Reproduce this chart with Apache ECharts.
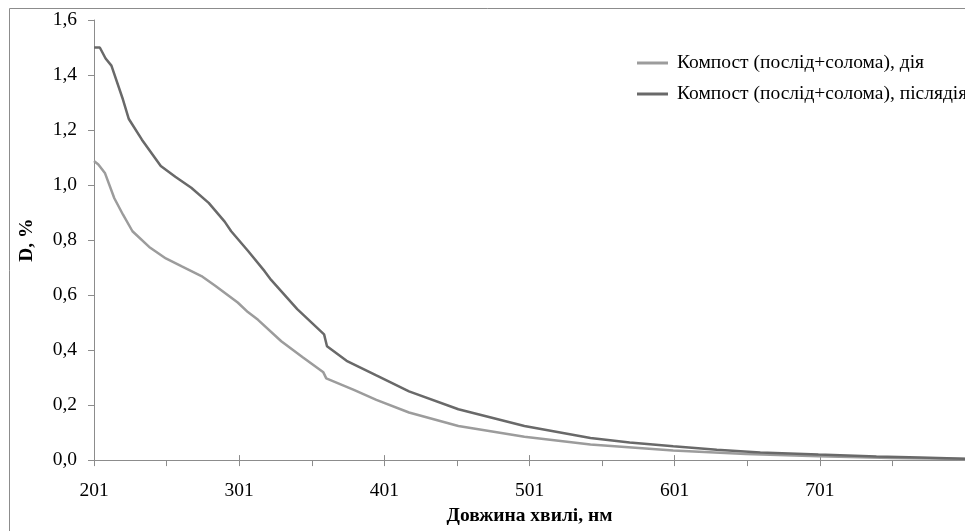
<!DOCTYPE html>
<html>
<head>
<meta charset="utf-8">
<script src="https://cdn.jsdelivr.net/npm/echarts@6/dist/echarts.min.js"></script>
<style>
html,body{margin:0;padding:0;background:#fff;overflow:hidden;}
#c{width:965px;height:531px;}
</style>
</head>
<body>
<div id="c"></div>
<script>
// Reference data
const seriesNames = ['Компост (послід+солома), дія', 'Компост (послід+солома), післядія'];
const lightNm = [201, 204, 208.5, 215, 221, 227.5, 239, 250.5, 261.5, 275, 284.5, 300, 307, 314, 330, 345, 359, 361, 380, 395.5, 418, 452, 497.5, 543, 600, 650, 700, 750, 801];
const lightD  = [1.087, 1.075, 1.044, 0.952, 0.892, 0.832, 0.775, 0.733, 0.704, 0.669, 0.634, 0.573, 0.538, 0.51, 0.432, 0.373, 0.319, 0.297, 0.255, 0.219, 0.173, 0.124, 0.085, 0.057, 0.035, 0.022, 0.014, 0.008, 0.004];
const darkNm = [201, 205, 209, 213, 221, 225, 234, 247, 257, 268, 280, 291, 295.5, 307, 318.5, 323, 341, 359.5, 361.5, 375, 395.5, 418, 452, 497.5, 543, 570, 600, 630, 660, 700, 740, 770, 801];
const darkD  = [1.50, 1.50, 1.46, 1.434, 1.31, 1.24, 1.165, 1.069, 1.03, 0.99, 0.935, 0.867, 0.832, 0.761, 0.687, 0.655, 0.549, 0.457, 0.414, 0.361, 0.308, 0.25, 0.185, 0.124, 0.08, 0.064, 0.05, 0.038, 0.028, 0.02, 0.013, 0.009, 0.005];
const xTicks = {min: 201, max: 801, interval: 100};
const yTicks = {min: 0, max: 1.6, interval: 0.2};
const xTitle = 'Довжина хвилі, нм';
const yTitle = 'D, %';

const serif = '"Liberation Serif", "DejaVu Serif", serif';
const fs = 19.5;
const chart = echarts.init(document.getElementById('c'));
const pairs = (xs, ys) => xs.map((x, i) => [x, ys[i]]);
chart.setOption({
  animation: false,
  backgroundColor: '#fff',
  graphic: [{
    type: 'rect', silent: true, z: -10,
    shape: {x: 9.5, y: 8.5, width: 1200, height: 700},
    style: {fill: 'none', stroke: '#8c8c8c', lineWidth: 1}
  }],
  grid: {left: 94, right: -11, top: 20, bottom: 59},
  legend: {
    orient: 'vertical', left: 637, top: 53, itemGap: 11, padding: 0,
    itemWidth: 31, itemHeight: 3, icon: 'rect',
    textStyle: {fontFamily: serif, fontSize: fs, color: '#000', padding: [0, 0, 0, 4]},
    data: seriesNames
  },
  xAxis: [{
    type: 'value', min: xTicks.min, max: xTicks.max, interval: xTicks.interval,
    position: 'bottom',
    name: xTitle, nameLocation: 'middle', nameGap: 36,
    nameTextStyle: {fontFamily: serif, fontSize: fs, fontWeight: 'bold', color: '#000'},
    axisLine: {lineStyle: {color: '#8c8c8c', width: 1}},
    axisTick: {show: true, inside: false, length: 6, lineStyle: {color: '#8c8c8c'}},
    minorTick: {show: true, splitNumber: 2, length: 6, lineStyle: {color: '#8c8c8c'}},
    axisLabel: {fontFamily: serif, fontSize: fs, color: '#000', margin: 21, showMaxLabel: false},
    splitLine: {show: false}
  }, {
    type: 'value', min: xTicks.min, max: xTicks.max, interval: xTicks.interval,
    position: 'bottom',
    axisLine: {show: false},
    axisTick: {show: true, inside: true, length: 5, lineStyle: {color: '#8c8c8c'}},
    axisLabel: {show: false},
    splitLine: {show: false}
  }],
  yAxis: {
    type: 'value', min: yTicks.min, max: yTicks.max, interval: yTicks.interval,
    name: yTitle, nameLocation: 'middle', nameGap: 57, nameRotate: 90,
    nameTextStyle: {fontFamily: serif, fontSize: fs, fontWeight: 'bold', color: '#000'},
    axisLine: {show: true, lineStyle: {color: '#8c8c8c', width: 1}},
    axisTick: {show: true, inside: false, length: 6, lineStyle: {color: '#8c8c8c'}},
    axisLabel: {fontFamily: serif, fontSize: fs, color: '#000', margin: 17,
      formatter: v => v.toFixed(1).replace('.', ',')},
    splitLine: {show: false}
  },
  series: [{
    name: seriesNames[0], type: 'line', showSymbol: false, symbol: 'none',
    data: pairs(lightNm, lightD),
    lineStyle: {color: '#9c9c9c', width: 2.5}, itemStyle: {color: '#9c9c9c'}
  }, {
    name: seriesNames[1], type: 'line', showSymbol: false, symbol: 'none',
    data: pairs(darkNm, darkD),
    lineStyle: {color: '#696969', width: 2.5}, itemStyle: {color: '#696969'}
  }]
});
</script>
</body>
</html>
